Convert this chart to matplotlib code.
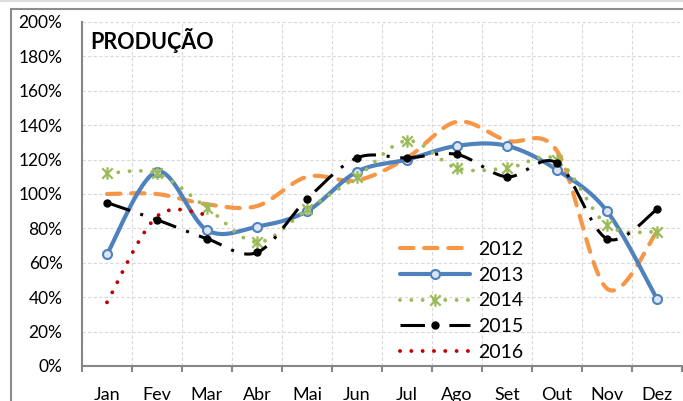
import matplotlib
matplotlib.use('Agg')
import matplotlib.pyplot as plt
import numpy as np
from matplotlib.lines import Line2D
from matplotlib.path import Path

plt.rcParams['font.family'] = ['Lato', 'DejaVu Sans']

# data (values in %)
months = ['Jan', 'Fev', 'Mar', 'Abr', 'Mai', 'Jun', 'Jul', 'Ago', 'Set', 'Out', 'Nov', 'Dez']
p2012 = [100, 100, 94, 93, 110, 108, 121, 142, 131, 125, 45, 78]
p2013 = [65, 113, 79, 81, 90, 113, 120, 128, 128, 114, 90, 39]
p2014 = [112, 112, 92, 72, 91, 110, 131, 115, 115, 120, 82, 78]
p2015 = [95, 85, 74, 66, 97, 121, 121, 123, 110, 118, 74, 91]
p2016 = [37, 87, 88]
yticks = [0, 20, 40, 60, 80, 100, 120, 140, 160, 180, 200]


def smooth(y, n=40):
    # Excel-style smoothed line: cubic Bezier through the points (Catmull-Rom controls)
    x = np.arange(1, len(y) + 1, dtype=float)
    y = np.asarray(y, dtype=float)
    xs, ys = [], []
    for i in range(len(y) - 1):
        x0, y0 = x[i], y[i]
        x3, y3 = x[i + 1], y[i + 1]
        xp, yp = (x[i - 1], y[i - 1]) if i > 0 else (x0, y0)
        xn, yn = (x[i + 2], y[i + 2]) if i + 2 < len(y) else (x3, y3)
        x1, y1 = x0 + (x3 - xp) / 6, y0 + (y3 - yp) / 6
        x2, y2 = x3 - (xn - x0) / 6, y3 - (yn - y0) / 6
        t = np.linspace(0, 1, n)
        a, b, c, d = (1 - t) ** 3, 3 * (1 - t) ** 2 * t, 3 * (1 - t) * t ** 2, t ** 3
        xs.append(a * x0 + b * x1 + c * x2 + d * x3)
        ys.append(a * y0 + b * y1 + c * y2 + d * y3)
    return np.concatenate(xs), np.concatenate(ys)


# asterisk marker like Excel's "star" (X plus vertical bar)
star = Path([(-1, -1), (1, 1), (-1, 1), (1, -1), (0, -1.2), (0, 1.2)],
            [Path.MOVETO, Path.LINETO, Path.MOVETO, Path.LINETO, Path.MOVETO, Path.LINETO])

styles = [
    ('2012', p2012, dict(color='#F79646', lw=3.0, ls=(0, (3.2, 2.6)), dash_capstyle='round'),
     dict(marker=None)),
    ('2013', p2013, dict(color='#4F81BD', lw=3.0, ls='-', solid_capstyle='round'),
     dict(marker='o', ms=6.5, mfc='#DCE6F2', mec='#4F81BD', mew=1.5)),
    ('2014', p2014, dict(color='#9BBB59', lw=2.8, ls=(0, (0.01, 2.9)), dash_capstyle='round'),
     dict(marker=star, ms=9, mfc='none', mec='#9BBB59', mew=1.6)),
    ('2015', p2015, dict(color='black', lw=2.2, ls=(0, (8, 3.5, 1, 3.5))),
     dict(marker='o', ms=5, mfc='black', mec='black', mew=1)),
    ('2016', p2016, dict(color='#C00000', lw=2.8, ls=(0, (0.01, 2.9)), dash_capstyle='round'),
     dict(marker=None)),
]

fig = plt.figure(figsize=(6.83, 4.01), dpi=100)
ax = fig.add_axes([82 / 683, 1 - 366 / 401, 600 / 683, 344 / 401])

handles = []
for k, (name, vals, lstyle, mstyle) in enumerate(styles):
    xs, ys = smooth(vals)
    ax.plot(xs, ys, zorder=3 + k, **lstyle)
    if mstyle['marker'] is not None:
        ax.plot(np.arange(1, len(vals) + 1), vals, ls='none', zorder=3 + k, **mstyle)
    handles.append(Line2D([], [], label=name, **lstyle, **mstyle))

ax.set_xlim(0.5, 12.5)
ax.set_ylim(0, 200)
ax.set_xticks(np.arange(1, 13))
ax.set_xticklabels(months)
ax.set_xticks(np.arange(0.5, 13, 1), minor=True)
ax.set_yticks(yticks)
ax.set_yticklabels([f'{v}%' for v in yticks])

ax.grid(axis='x', which='minor', color='#D9D9D9', lw=0.8, ls=(0, (3, 2)))
ax.grid(axis='y', which='major', color='#D9D9D9', lw=0.8, ls=(0, (3, 2)))
ax.set_axisbelow(True)

for s in ['top', 'right']:
    ax.spines[s].set_visible(False)
for s in ['left', 'bottom']:
    ax.spines[s].set_color('#868686')
    ax.spines[s].set_linewidth(1.5)

ax.tick_params(axis='x', which='major', length=0, pad=15, labelsize=13)
ax.tick_params(axis='x', which='minor', length=4, width=1.5, color='#868686', direction='out')
ax.tick_params(axis='y', which='major', length=0, pad=14, labelsize=12.5)

ax.legend(handles=handles, loc='upper left', bbox_to_anchor=(400 / 683, 1 - 241 / 401),
          bbox_transform=fig.transFigure, frameon=False, fontsize=14, borderpad=0,
          borderaxespad=0, handlelength=3.6, handletextpad=0.4, labelspacing=0.45,
          numpoints=1)

fig.text(90 / 683, 1 - 49 / 401, 'PRODUÇÃO', fontsize=15.5, fontweight='bold', va='baseline')

# outer chart frame
fig.add_artist(Line2D([11 / 683, 11 / 683], [0, 1 - 8.5 / 401], transform=fig.transFigure,
                      color='#8C8C8C', lw=1.5))
fig.add_artist(Line2D([11 / 683, 1], [1 - 8.5 / 401, 1 - 8.5 / 401], transform=fig.transFigure,
                      color='#8C8C8C', lw=1.5))
fig.add_artist(Line2D([0, 1], [1 - 0.5 / 401, 1 - 0.5 / 401], transform=fig.transFigure,
                      color='#DDDDDD', lw=1.5))

fig.savefig('out.png', dpi=100)
